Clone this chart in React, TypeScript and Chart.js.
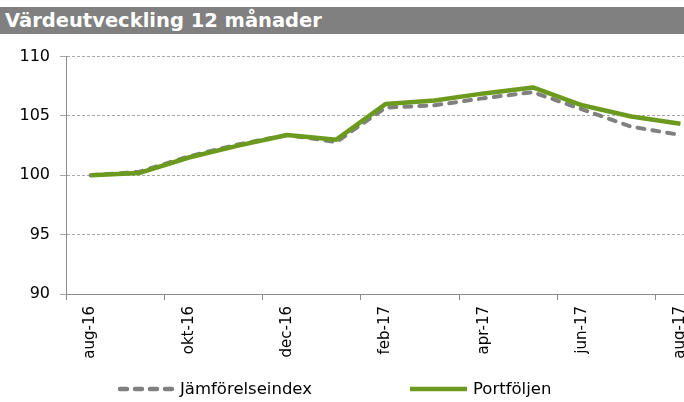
import React, { useEffect, useRef } from "react";
import { Chart, registerables } from "chart.js";

Chart.register(...registerables);

const TITLE = "Värdeutveckling 12 månader";
const MONTHS = [
  "aug-16", "sep-16", "okt-16", "nov-16", "dec-16", "jan-17", "feb-17",
  "mar-17", "apr-17", "maj-17", "jun-17", "jul-17", "aug-17",
];
const SERIES_NAMES = ["Jämförelseindex", "Portföljen"];
const INDEX_VALUES = [100, 100.3, 101.6, 102.6, 103.4, 102.8, 105.7, 105.9, 106.5, 107.0, 105.55, 104.1, 103.4];
const PORTFOLIO_VALUES = [100, 100.2, 101.5, 102.5, 103.4, 103.0, 106.0, 106.3, 106.9, 107.4, 105.9, 104.95, 104.35];
const Y_MIN = 90;
const Y_MAX = 110;
const Y_STEP = 5;

const GRAY = "#808080";
const GREEN = "#6B9A1F";
const FONT = "'DejaVu Sans', Verdana, sans-serif";

export default function App() {
  const ref = useRef<HTMLCanvasElement | null>(null);

  useEffect(() => {
    document.body.style.margin = "0";
    const canvas = ref.current;
    if (!canvas) return;
    const chart = new Chart(canvas, {
      type: "line",
      data: {
        labels: MONTHS,
        datasets: [
          {
            label: SERIES_NAMES[0],
            data: INDEX_VALUES,
            borderColor: GRAY,
            backgroundColor: GRAY,
            borderWidth: 4,
            borderDash: [7, 8],
            borderCapStyle: "round",
            borderJoinStyle: "round",
            pointRadius: 0,
            tension: 0,
            order: 2,
          },
          {
            label: SERIES_NAMES[1],
            data: PORTFOLIO_VALUES,
            borderColor: GREEN,
            backgroundColor: GREEN,
            borderWidth: 4.5,
            borderJoinStyle: "round",
            pointRadius: 0,
            tension: 0,
            order: 1,
          },
        ],
      },
      options: {
        animation: false,
        responsive: false,
        devicePixelRatio: 1,
        layout: { padding: { top: 16, right: 15, left: 0, bottom: 0 } },
        plugins: {
          legend: { display: false },
          title: { display: false },
          tooltip: { enabled: false },
        },
        scales: {
          x: {
            type: "category",
            offset: true,
            border: { display: true, color: "#8c8c8c", width: 1 },
            grid: {
              offset: true,
              drawOnChartArea: false,
              drawTicks: true,
              tickLength: 6,
              tickColor: (ctx: any) => (ctx.index % 2 === 0 ? "#8c8c8c" : "rgba(0,0,0,0)"),
            },
            ticks: {
              autoSkip: false,
              maxRotation: 90,
              minRotation: 90,
              padding: 6,
              color: "#000",
              font: { family: FONT, size: 15 },
              callback: (_v: any, i: number) => (i % 2 === 0 ? MONTHS[i] : ""),
            },
            afterFit: (scale: any) => {
              scale.height = 86;
            },
          },
          y: {
            min: Y_MIN,
            max: Y_MAX,
            border: { display: true, color: "#8c8c8c", width: 1, dash: [3, 2] },
            grid: {
              color: "#a6a6a6",
              lineWidth: 1,
              tickLength: 6,
              tickColor: "#a6a6a6",
            },
            ticks: {
              stepSize: Y_STEP,
              padding: 10,
              color: "#000",
              font: { family: FONT, size: 16 },
            },
            afterFit: (scale: any) => {
              scale.width = 66;
            },
          },
        },
      },
    });
    return () => chart.destroy();
  }, []);

  const legendText: React.CSSProperties = {
    position: "absolute",
    top: 378,
    fontFamily: FONT,
    fontSize: 16.5,
    lineHeight: "22px",
    color: "#000",
    whiteSpace: "nowrap",
  };

  return (
    <div
      style={{
        position: "fixed",
        left: 0,
        top: 0,
        width: 684,
        height: 402,
        overflow: "hidden",
        background: "#fff",
      }}
    >
      <div
        style={{
          position: "absolute",
          left: 0,
          top: 7,
          width: 684,
          height: 27,
          background: GRAY,
          color: "#fff",
          fontFamily: FONT,
          fontWeight: "bold",
          fontSize: 19.5,
          lineHeight: "27px",
          paddingLeft: 5,
          boxSizing: "border-box",
          whiteSpace: "nowrap",
        }}
      >
        {TITLE}
      </div>
      <canvas
        ref={ref}
        width={720}
        height={343}
        style={{ position: "absolute", left: 0, top: 37, width: 720, height: 343 }}
      />
      <svg
        width={64}
        height={10}
        style={{ position: "absolute", left: 116, top: 384 }}
      >
        <line
          x1={4}
          y1={5}
          x2={60}
          y2={5}
          stroke={GRAY}
          strokeWidth={4.5}
          strokeDasharray="7 8"
          strokeLinecap="round"
        />
      </svg>
      <div style={{ ...legendText, left: 180 }}>{SERIES_NAMES[0]}</div>
      <svg
        width={58}
        height={10}
        style={{ position: "absolute", left: 410, top: 384 }}
      >
        <line x1={0} y1={5} x2={57} y2={5} stroke={GREEN} strokeWidth={4.5} />
      </svg>
      <div style={{ ...legendText, left: 473 }}>{SERIES_NAMES[1]}</div>
    </div>
  );
}
